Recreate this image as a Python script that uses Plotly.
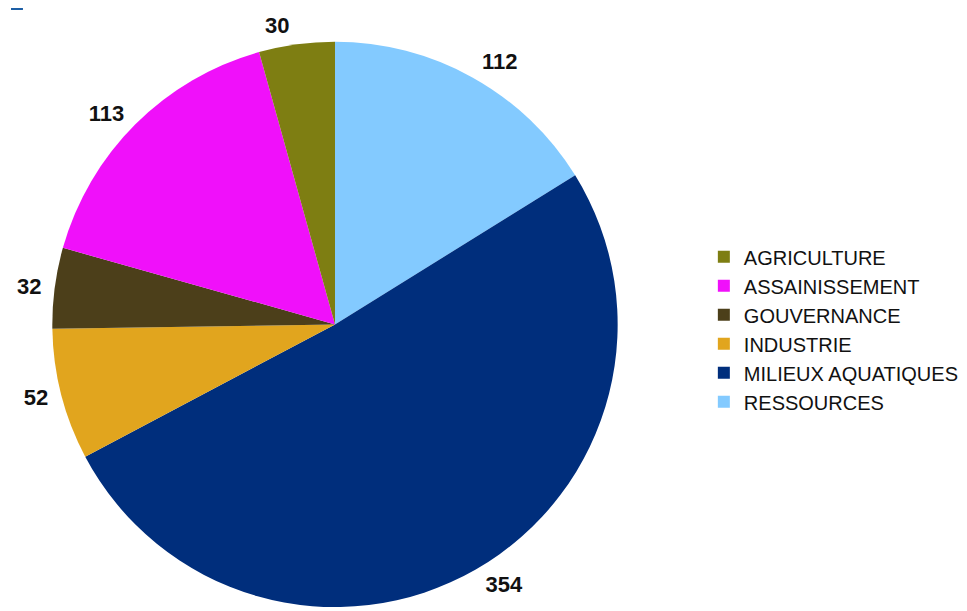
import plotly.graph_objects as go

# slices listed clockwise from 12 o'clock
categories = ["RESSOURCES", "MILIEUX AQUATIQUES", "INDUSTRIE", "GOUVERNANCE",
              "ASSAINISSEMENT", "AGRICULTURE"]
values = [112, 354, 52, 32, 113, 30]
colors = ["#83caff", "#002e7c", "#e1a51e", "#4c3f1a", "#f010fa", "#7e7e12"]

W, H = 967, 611
cx, cy, r = 325, 319, 285          # pie center / radius in figure pixels (from top-left)
r_lab = min(r + 11, H - cy, cy)    # invisible twin pie that carries the outside labels


def dom(rad):
    y0 = max(0.0, (H - cy - rad) / H)
    y1 = min(1.0, (H - cy + rad) / H)
    return dict(x=[(cx - rad) / W, (cx + rad) / W], y=[y0, y1])


fig = go.Figure()
fig.add_trace(go.Pie(
    labels=categories,
    values=values,
    sort=False,
    direction="clockwise",
    rotation=0,
    marker=dict(colors=colors, line=dict(width=0)),
    textinfo="none",
    domain=dom(r),
    hoverinfo="label+value+percent",
))
fig.add_trace(go.Pie(
    labels=categories,
    values=values,
    sort=False,
    direction="clockwise",
    rotation=0,
    marker=dict(colors=["rgba(0,0,0,0)"] * len(values), line=dict(width=0)),
    textinfo="value",
    textposition="outside",
    textfont=dict(family="Liberation Sans, Arial, sans-serif", size=22, color="#111111", weight="bold"),
    domain=dom(r_lab),
    hoverinfo="skip",
    showlegend=False,
))

fig.update_layout(
    width=W, height=H,
    margin=dict(l=0, r=0, t=0, b=0),
    paper_bgcolor="white",
    plot_bgcolor="white",
    showlegend=True,
    legend=dict(
        x=695 / W, y=1 - 324 / H, xanchor="left", yanchor="middle",
        font=dict(family="Liberation Sans, Arial, sans-serif", size=20, color="#111111"),
        traceorder="reversed",
        bgcolor="rgba(0,0,0,0)",
    ),
    shapes=[dict(type="rect", xref="paper", yref="paper",
                 x0=0, x1=12 / W, y0=1 - 2 / H, y1=1,
                 fillcolor="#1d5fa6", line=dict(width=0))],
)

fig.write_html("out.html")
